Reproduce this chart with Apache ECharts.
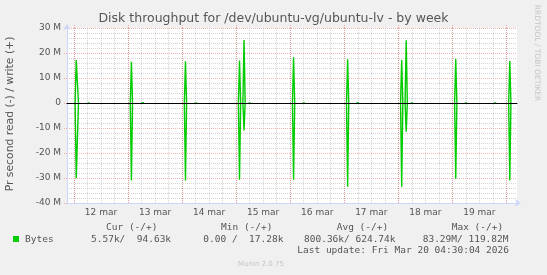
<!DOCTYPE html>
<html><head><meta charset="utf-8">
<script src="https://cdn.jsdelivr.net/npm/echarts@6/dist/echarts.min.js"></script>
<style>html,body{margin:0;padding:0;background:#f0f0f0}#c{width:547px;height:275px}</style>
</head><body><div id="c"></div>
<script>
// ---- data (time in hours since 12 mar 00:00, values in M bytes/s) ----
const dayLabels = ['12 mar','13 mar','14 mar','15 mar','16 mar','17 mar','18 mar','19 mar'];
const spikeHours = [1.0, 1.5, 25.5, 49.5, 73.5, 75.5, 97.5, 121.5, 145.5, 147.5, 169.5, 193.5];
const writeM     = [17.2, 17.2, 16.5, 16.7, 17.0, 25.2, 18.3, 17.5, 17.2, 25.1, 17.6, 16.8];
const readM      = [30.1, 30.1, 31.0, 31.0, 30.7, 11.0, 30.7, 33.5, 33.5, 11.5, 30.3, 31.0];
const blipHours  = [6.5, 30.5, 54.0, 78.0, 102.0, 126.0, 150.0, 174.0, 187.0];
const blipWriteM = [0.6, 0.5, 0.6, 0.6, 0.6, 0.5, 0.6, 0.6, 0.5];
const blipReadM  = [0, 0.5, 0, 0, 0, 0.5, 0, 0, 0];
const yTickValues = [-40, -30, -20, -10, 0, 10, 20, 30];
const legendHeaders = ['Cur (-/+)', 'Min (-/+)', 'Avg (-/+)', 'Max (-/+)'];
const legendStats = ['5.57k/  94.63k', '0.00 /  17.28k', '800.36k/ 624.74k', '83.29M/ 119.82M'];
const seriesName = 'Bytes';
const lastUpdate = 'Last update: Fri Mar 20 04:30:04 2026';

// ---- layout ----
const X_MIN = -3.1, X_MAX = 196.7;
const PL = 67, PT = 28, PW = 450, PH = 175;
const K = PW / (X_MAX - X_MIN);
const GREEN = '#00cc00';
const AXIS_C = '#CFD6F8';
const GRID_GRAY = 'rgba(170,170,170,0.5)';
const GRID_RED = 'rgba(235,90,90,0.45)';

function events(hours, vals, sign) {
  const ev = [];
  hours.forEach((h, i) => { if (vals[i] !== 0) ev.push([h, sign * vals[i]]); });
  return ev;
}
// each event is drawn from the zero line up to its value and back; gaps between events are left empty
function build(ev) {
  ev.sort((a, b) => a[0] - b[0]);
  const pts = [];
  for (let i = 0; i < ev.length; i++) {
    const [h, v] = ev[i];
    const prev = i > 0 ? ev[i - 1][0] : -Infinity;
    const next = i < ev.length - 1 ? ev[i + 1][0] : Infinity;
    if (h - prev > 0.5) pts.push([h - 0.5, 0]);
    pts.push([h, v]);
    if (next - h > 0.5) { pts.push([h + 0.5, 0]); pts.push([h + 0.5, null]); }
  }
  return pts;
}
const writePts = build(events(spikeHours, writeM, 1).concat(events(blipHours, blipWriteM, 1)));
const readPts = build(events(spikeHours, readM, -1).concat(events(blipHours, blipReadM, -1)));

const dotted = (c) => ({ color: c, width: 1, type: [1, 1] });
const hiddenY = (g) => ({ gridIndex: g, type: 'value', min: -40, max: 30, show: false });
const FONT = 'DejaVu Sans';
const MONO = 'DejaVu Sans Mono';

const chart = echarts.init(document.getElementById('c'), null, { renderer: 'canvas' });
const g = [];
legendHeaders.forEach((t, i) => g.push({ type: 'text', left: [106, 221, 336.7, 451.7][i], top: 222.5,
  style: { text: t, font: '9.5px "' + MONO + '"', fill: '#555' } }));
g.push({ type: 'rect', shape: { x: 13, y: 236, width: 6, height: 6 }, style: { fill: GREEN } });
g.push({ type: 'text', left: 25, top: 234.5, style: { text: seriesName, font: '9.5px "' + MONO + '"', fill: '#555' } });
legendStats.forEach((t, i) => g.push({ type: 'text', left: [91, 203.3, 304, 422.7][i], top: 234.5,
  style: { text: t, font: '9.5px "' + MONO + '"', fill: '#555' } }));
g.push({ type: 'text', left: 297.3, top: 246, style: { text: lastUpdate, font: '9.5px "' + MONO + '"', fill: '#555' } });
g.push({ type: 'text', x: 261, y: 264.5, style: { text: 'Munin 2.0.75', font: '7px "' + FONT + '"', fill: '#c4c4c4', align: 'center', verticalAlign: 'middle' } });
g.push({ type: 'text', x: 537, y: 53, rotation: -Math.PI / 2, style: { text: 'RRDTOOL / TOBI OETIKER', font: '7.5px "' + FONT + '"', fill: '#c4c4c4', align: 'center', verticalAlign: 'middle' } });
g.push({ type: 'text', x: 10, y: 114, rotation: Math.PI / 2, style: { text: 'Pr second read (-) / write (+)', font: '10.8px "' + FONT + '"', fill: '#555', align: 'center', verticalAlign: 'middle' } });

chart.setOption({
  backgroundColor: '#f0f0f0',
  animation: false,
  title: { text: 'Disk throughput for /dev/ubuntu-vg/ubuntu-lv - by week', left: 'center', top: 12, padding: 0,
    textStyle: { fontFamily: FONT, fontSize: 12.5, fontWeight: 'normal', color: '#555' } },
  graphic: g,
  grid: [
    { left: PL, top: PT, width: PW, height: PH, show: true, backgroundColor: '#ffffff', borderWidth: 0 },
    { left: PL + (0 - X_MIN) * K, top: PT, width: 192 * K, height: PH },
    { left: PL + (12 - X_MIN) * K, top: PT, width: 168 * K, height: PH }
  ],
  xAxis: [
    { gridIndex: 0, type: 'value', min: X_MIN, max: X_MAX, position: 'bottom', z: 10,
      axisLine: { show: true, onZero: true, lineStyle: { color: '#000', width: 1 } },
      axisTick: { show: false }, axisLabel: { show: false }, splitLine: { show: false } },
    { gridIndex: 0, type: 'value', min: X_MIN, max: X_MAX, position: 'bottom',
      axisLine: { show: true, onZero: false, symbol: ['none', 'arrow'], symbolSize: [6, 6], symbolOffset: [0, 4],
        lineStyle: { color: AXIS_C, width: 1 } },
      axisTick: { show: false }, axisLabel: { show: false }, splitLine: { show: false } },
    { gridIndex: 1, type: 'value', min: 0, max: 192, interval: 6,
      axisLine: { show: false, onZero: false }, axisTick: { show: false }, axisLabel: { show: false },
      splitLine: { show: true, showMinLine: true, showMaxLine: true, lineStyle: dotted(GRID_GRAY) } },
    { gridIndex: 1, type: 'value', min: 0, max: 192, interval: 24,
      axisLine: { show: false, onZero: false },
      axisTick: { show: true, inside: false, length: 3, lineStyle: dotted(GRID_RED) },
      axisLabel: { show: false },
      splitLine: { show: true, showMinLine: true, showMaxLine: true, lineStyle: dotted(GRID_RED) } },
    { gridIndex: 2, type: 'value', min: 0, max: 168, interval: 24,
      axisLine: { show: false, onZero: false }, axisTick: { show: false }, splitLine: { show: false },
      axisLabel: { show: true, margin: 5, color: '#555', fontFamily: FONT, fontSize: 9,
        showMinLabel: true, showMaxLabel: true,
        formatter: (v) => dayLabels[Math.round(v / 24)] } }
  ],
  yAxis: [
    { gridIndex: 0, type: 'value', min: yTickValues[0], max: yTickValues[yTickValues.length - 1], interval: 10,
      position: 'left',
      axisLine: { show: true, onZero: false, symbol: ['none', 'arrow'], symbolSize: [6, 6], symbolOffset: [0, 4],
        lineStyle: { color: AXIS_C, width: 1 } },
      axisTick: { show: true, length: 3, lineStyle: dotted(GRID_RED) },
      axisLabel: { margin: 6, color: '#555', fontFamily: FONT, fontSize: 9,
        formatter: (v) => v === 0 ? '0' : v + ' M' },
      splitLine: { show: true, lineStyle: dotted(GRID_RED) },
      minorTick: { show: false, splitNumber: 5 },
      minorSplitLine: { show: true, lineStyle: dotted(GRID_GRAY) } },
    hiddenY(1), hiddenY(2)
  ],
  series: [
    { name: 'write', type: 'line', xAxisIndex: 0, yAxisIndex: 0, data: writePts, showSymbol: false,
      connectNulls: false, lineStyle: { color: GREEN, width: 1.4 }, itemStyle: { color: GREEN }, z: 3 },
    { name: 'read', type: 'line', xAxisIndex: 0, yAxisIndex: 0, data: readPts, showSymbol: false,
      connectNulls: false, lineStyle: { color: GREEN, width: 1.4 }, itemStyle: { color: GREEN }, z: 3 }
  ]
});
</script></body></html>
